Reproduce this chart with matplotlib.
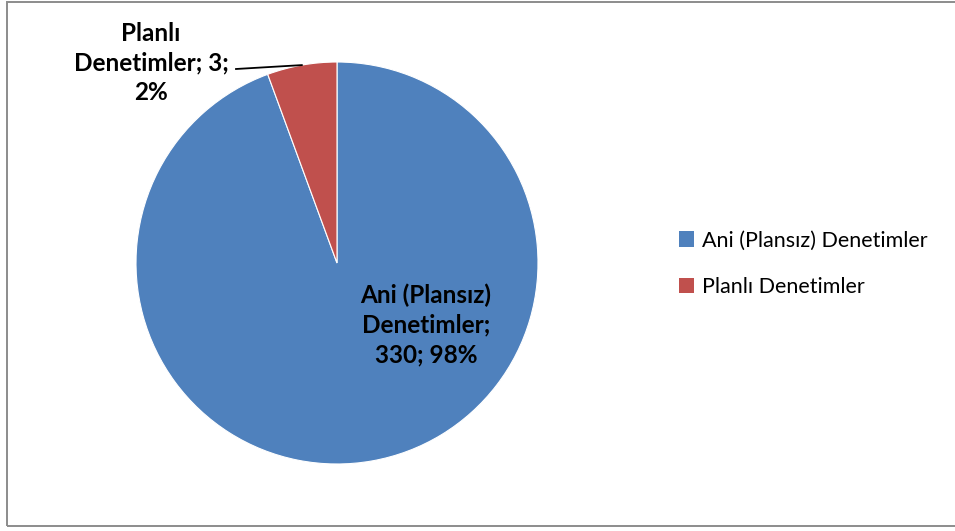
import numpy as np
import matplotlib.pyplot as plt
from matplotlib.patches import Rectangle, Patch

plt.rcParams['font.family'] = ['Lato', 'DejaVu Sans']

# data
categories = ['Ani (Plansız) Denetimler', 'Planlı Denetimler']
counts = [330, 3]
pct_labels = ['98%', '2%']
shares = [94.4, 5.6]   # slice sizes as drawn in the original
colors = ['#4F81BD', '#C0504D']

W, H = 955, 531
fig = plt.figure(figsize=(W / 100, H / 100), dpi=100)

# pie centre (337, 263), radius 201 px
cx, cy, r = 337, 263, 201
ax = fig.add_axes([(cx - r) / W, (H - cy - r) / H, 2 * r / W, 2 * r / H])
wedges, _ = ax.pie(shares, colors=colors, startangle=90, counterclock=False,
                   wedgeprops=dict(edgecolor='white', linewidth=0.8))
ax.set_xlim(-1, 1)
ax.set_ylim(-1, 1)

def px(x, y):
    return (x - cx) / r, (cy - y) / r

# label inside the big slice
tx, ty = px(426, 325)
ax.text(tx, ty, 'Ani (Plansız)\nDenetimler;\n%d; %s' % (counts[0], pct_labels[0]),
        ha='center', va='center', fontsize=17.5, fontweight='bold',
        linespacing=1.33, color='black')

# outside label for small slice with leader line
w = wedges[1]
mid = np.deg2rad((w.theta1 + w.theta2) / 2)
lx, ly = px(151, 63)
ax.text(lx, ly, 'Planlı\nDenetimler; %d;\n%s' % (counts[1], pct_labels[1]),
        ha='center', va='center', fontsize=17.5, fontweight='bold',
        linespacing=1.33, color='black', clip_on=False)
sx, sy = px(236, 69)
ax.plot([sx, np.cos(mid)], [sy, np.sin(mid)], color='black', lw=1.3,
        clip_on=False)

# legend
handles = [Patch(facecolor=c, edgecolor='none') for c in colors]
fig.legend(handles, categories, loc='center left',
           bbox_to_anchor=(668 / W, 1 - 264 / H), frameon=False,
           fontsize=15.5, handlelength=0.7, handleheight=0.7,
           handletextpad=0.4, labelspacing=1.25, borderpad=0)

# chart border
fig.patches.append(Rectangle((7 / W, 5.5 / H), 960 / W, 524 / H,
                             transform=fig.transFigure, fill=False,
                             edgecolor='#8c8c8c', linewidth=1.4,
                             clip_on=False))

fig.savefig('out.png', dpi=100)
